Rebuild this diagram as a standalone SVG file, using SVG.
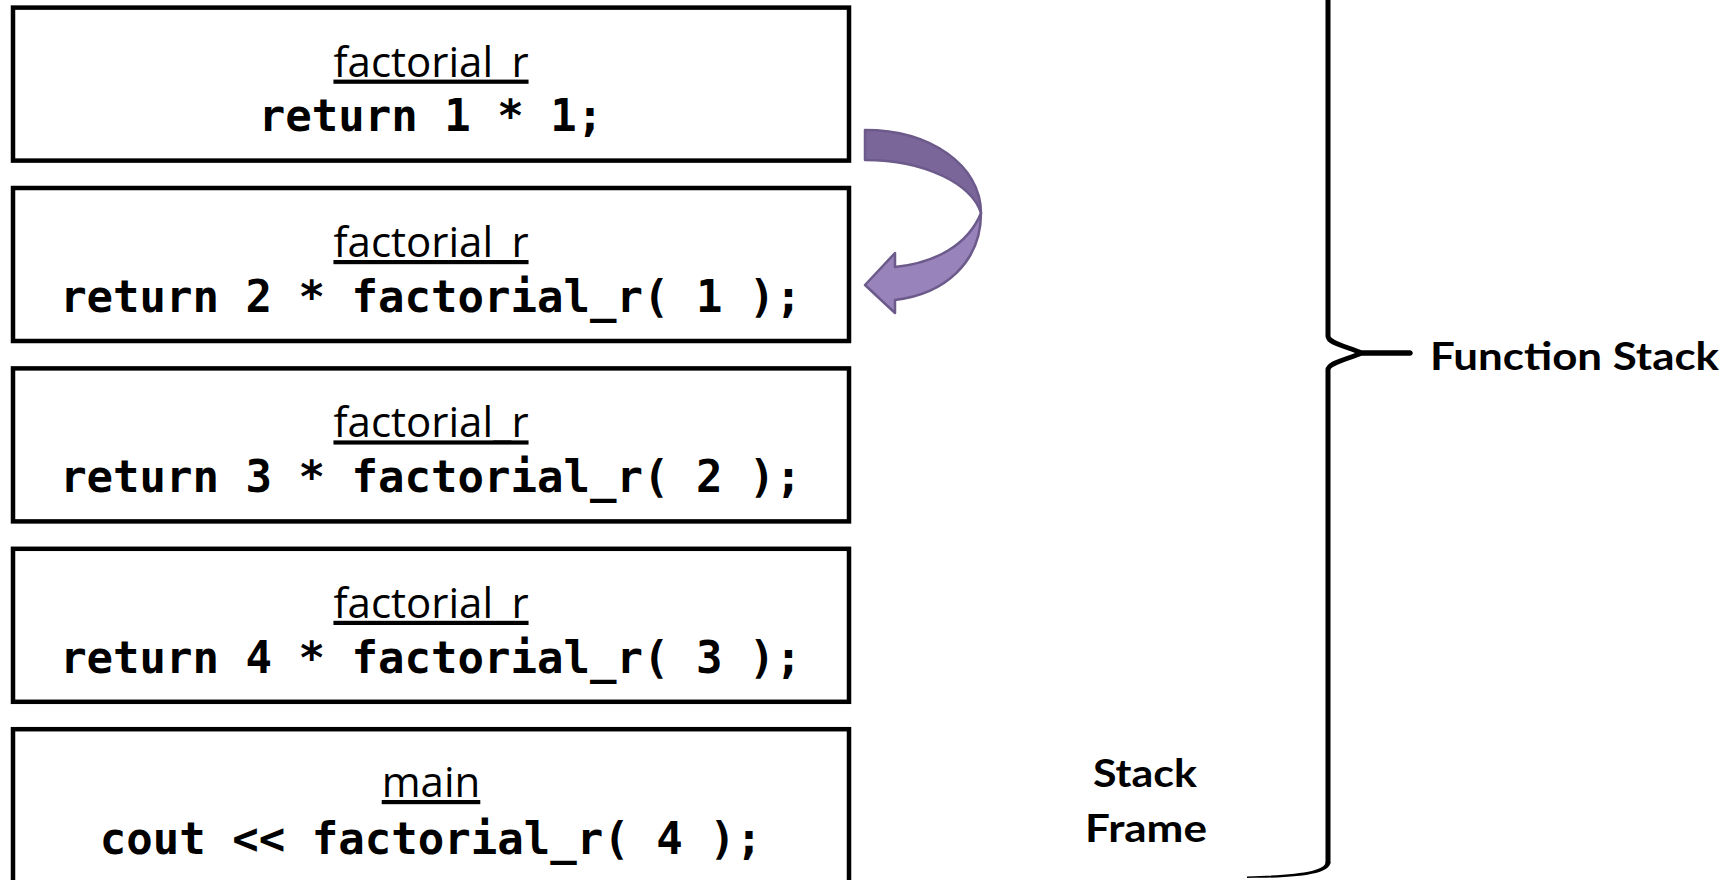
<svg xmlns="http://www.w3.org/2000/svg" width="1732" height="880" viewBox="0 0 1732 880">
  <style>
    .box { fill: #ffffff; stroke: #000000; stroke-width: 4.5; }
    .title { font-family: "Open Sans", "Liberation Sans", sans-serif; font-size: 42px; text-anchor: middle; text-decoration: underline; fill: #000; }
    .code { font-family: "DejaVu Sans Mono", "Liberation Mono", monospace; font-weight: bold; font-size: 44px; text-anchor: middle; fill: #000; white-space: pre; }
    .label { font-family: Lato, "Open Sans", "Liberation Sans", sans-serif; font-weight: bold; font-size: 39px; fill: #000; }
    .brace { fill: none; stroke: #000; stroke-width: 5; stroke-linecap: round; stroke-linejoin: round; }
    .arrowDark { fill: #7b6699; stroke: #6c5a8b; stroke-width: 2.5; stroke-linejoin: round; }
    .arrowLight { fill: #9883ba; stroke: #6c5a8b; stroke-width: 2.5; stroke-linejoin: round; }
  </style>

  <g id="frame1">
    <rect class="box" x="13" y="7.6" width="836" height="153"/>
    <text class="title" x="431" y="76.6">factorial_r</text>
    <text class="code" x="431" y="131">return 1 * 1;</text>
  </g>
  <g id="frame2">
    <rect class="box" x="13" y="188" width="836" height="153"/>
    <text class="title" x="431" y="257">factorial_r</text>
    <text class="code" x="431" y="311.5">return 2 * factorial_r( 1 );</text>
  </g>
  <g id="frame3">
    <rect class="box" x="13" y="368.4" width="836" height="153"/>
    <text class="title" x="431" y="437.4">factorial_r</text>
    <text class="code" x="431" y="492">return 3 * factorial_r( 2 );</text>
  </g>
  <g id="frame4">
    <rect class="box" x="13" y="548.8" width="836" height="153"/>
    <text class="title" x="431" y="617.8">factorial_r</text>
    <text class="code" x="431" y="672.5">return 4 * factorial_r( 3 );</text>
  </g>
  <g id="frame5">
    <rect class="box" x="13" y="729.2" width="836" height="160"/>
    <text class="title" x="431" y="797">main</text>
    <text class="code" x="431" y="854">cout &lt;&lt; factorial_r( 4 );</text>
  </g>

  <g id="connectors">
    <g id="return-arrow">
      <path class="arrowDark" d="M865,130 C930,130 981,165 981,213 C972,185 927,160 865,160 Z"/>
      <path class="arrowLight" d="M981,213 C981,262 945,294 895,300 L895,313 L865,285 L895,253 L895,267 C935,263 968,245 981,213 Z"/>
    </g>
    <g id="brace">
      <path class="brace" d="M1328,-20 V336 C1328,343 1345,346 1362,353 L1410,353"/>
      <path class="brace" d="M1410,353 L1362,353 C1345,360 1328,363 1328,370 V862"/>
      <path d="M1325.5,862 C1325.5,871 1300,875 1247,876.5 L1247,878 C1305,878 1330.5,873 1330.5,862 Z" fill="#000"/>
    </g>
  </g>

  <g id="function-stack-label">
    <text class="label" x="1430" y="370" textLength="289" lengthAdjust="spacingAndGlyphs">Function Stack</text>
  </g>
  <g id="stack-frame-label">
    <text class="label" x="1093" y="787" textLength="104" lengthAdjust="spacingAndGlyphs">Stack</text>
    <text class="label" x="1085" y="842" textLength="122" lengthAdjust="spacingAndGlyphs">Frame</text>
  </g>
</svg>
